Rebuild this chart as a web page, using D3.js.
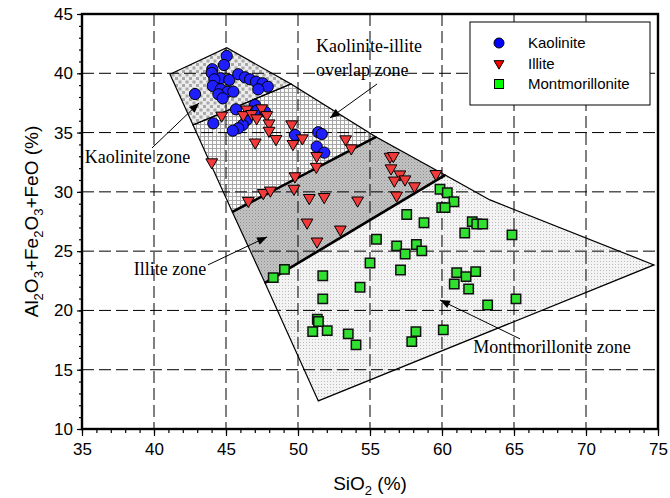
<!DOCTYPE html>
<html>
<head>
<meta charset="utf-8">
<script src="https://cdn.jsdelivr.net/npm/d3@7"></script>
<style>
  body { margin: 0; background: #fff; }
  text { font-family: Arial, "Liberation Sans", sans-serif; }
  .serif { font-family: "Times New Roman", "Liberation Serif", serif; }
</style>
</head>
<body>
<svg id="chart" width="670" height="498"></svg>
<script>
// --- data (SiO2 %, Al2O3+Fe2O3+FeO %)
var kaolinite = [
  [45.05, 41.46], [44.86, 40.70], [44.05, 40.34], [44.01, 40.03], [44.63, 39.58],
  [44.19, 39.49], [45.23, 39.44], [45.85, 39.92], [46.32, 39.66], [46.67, 39.49],
  [47.08, 39.29], [47.55, 39.16], [47.90, 38.87], [47.24, 38.65], [44.08, 38.93],
  [44.63, 38.65], [45.12, 38.45], [45.51, 38.45], [44.47, 38.23], [44.77, 37.89],
  [42.85, 38.25], [45.69, 36.96], [47.01, 37.33], [47.17, 36.85], [47.71, 36.76],
  [46.44, 36.06], [46.16, 35.64], [45.85, 35.36], [45.47, 35.16], [44.12, 35.78],
  [49.79, 34.80], [51.41, 35.03], [51.65, 34.88], [51.30, 33.81], [51.83, 33.31]
];
var illite = [
  [44.70, 36.44], [46.44, 36.96], [46.20, 36.48], [46.78, 36.57], [47.13, 36.21],
  [47.48, 37.05], [47.83, 36.48], [47.99, 35.78], [47.99, 35.16], [48.47, 34.46],
  [47.03, 34.17], [49.56, 35.70], [49.65, 34.04], [50.30, 34.52], [53.31, 34.44],
  [53.70, 33.68], [51.30, 33.03], [51.27, 32.12], [44.01, 32.50], [49.79, 31.32],
  [49.72, 30.27], [47.59, 29.91], [48.08, 30.12], [46.55, 29.25], [50.78, 29.49],
  [51.82, 29.57], [54.14, 29.28], [50.63, 27.42], [52.94, 26.83], [51.32, 25.82],
  [56.39, 32.97], [56.62, 33.03], [56.46, 31.99], [57.08, 31.48], [57.43, 31.06],
  [56.69, 30.96], [58.09, 30.48], [59.58, 31.51], [56.85, 29.70]
];
var montmorillonite = [
  [59.86, 30.22], [60.37, 29.93], [60.83, 29.17], [59.98, 28.67], [60.21, 28.67],
  [57.55, 28.09], [58.75, 27.39], [62.10, 27.49], [62.41, 27.29], [62.83, 27.29],
  [61.58, 26.53], [55.45, 26.00], [56.85, 25.44], [58.22, 25.56], [57.44, 24.76],
  [58.60, 25.02], [55.00, 24.00], [57.12, 23.41], [61.02, 23.19], [61.67, 22.85],
  [62.34, 23.27], [51.72, 22.93], [49.06, 23.46], [48.28, 22.77], [54.31, 21.96],
  [60.85, 22.23], [61.85, 21.81], [51.72, 20.97], [63.17, 20.46], [51.34, 19.26],
  [51.02, 18.21], [52.03, 18.30], [53.49, 18.02], [54.03, 17.09], [58.19, 18.21],
  [57.90, 17.37], [60.09, 18.36], [64.86, 26.37], [65.14, 20.97], [51.42, 19.07]
];

// zone outlines
var kaoliniteZone = [[41.11, 39.92], [45.05, 42.16], [49.51, 39.10], [42.71, 35.64]];
var overlapZone = [[42.71, 35.64], [49.51, 39.10], [55.42, 34.63], [45.44, 28.31]];
var illiteZone = [[45.44, 28.31], [55.42, 34.63], [60.21, 31.42], [47.71, 22.32]];
var montZone = [[47.71, 22.32], [60.21, 31.42], [63.33, 29.32], [74.72, 23.84], [51.41, 12.37]];
var thickLines = [
  [[45.44, 28.31], [55.42, 34.63]],
  [[47.71, 22.32], [60.21, 31.42]]
];

var zoneLabels = [
  {lines: ["Kaolinite-illite", "overlap zone"], x: 51.25, y: 41.80, anchor: "start"},
  {lines: ["Kaolinite zone"], x: 38.85, y: 32.44, anchor: "middle"},
  {lines: ["Illite zone"], x: 41.11, y: 22.99, anchor: "middle"},
  {lines: ["Montmorillonite zone"], x: 67.64, y: 16.42, anchor: "middle"}
];
var arrows = [
  [[39.86, 33.70], [43.13, 37.50]],
  [[55.49, 39.10], [52.22, 36.23]],
  [[43.75, 23.84], [47.85, 26.20]],
  [[65.42, 17.60], [59.86, 20.88]]
];

var xTicks = [35, 40, 45, 50, 55, 60, 65, 70, 75];
var yTicks = [10, 15, 20, 25, 30, 35, 40, 45];
var legendNames = ["Kaolinite", "Illite", "Montmorillonite"];

// --- chart
var svg = d3.select("#chart");
var x = d3.scaleLinear().domain([35, 75]).range([82, 658]);
var y = d3.scaleLinear().domain([10, 45]).range([429, 14]);

var defs = svg.append("defs");

// kaolinite: grey squares on a light ground
var p1 = defs.append("pattern").attr("id", "pK").attr("patternUnits", "userSpaceOnUse")
  .attr("width", 7).attr("height", 7);
p1.append("rect").attr("width", 7).attr("height", 7).attr("fill", "#ececec");
p1.append("rect").attr("x", 0).attr("y", 0).attr("width", 3).attr("height", 3).attr("fill", "#a9a9a9");
p1.append("rect").attr("x", 3.5).attr("y", 3.5).attr("width", 3).attr("height", 3).attr("fill", "#a9a9a9");

// overlap: grid
var p2 = defs.append("pattern").attr("id", "pO").attr("patternUnits", "userSpaceOnUse")
  .attr("width", 4).attr("height", 4);
p2.append("rect").attr("width", 4).attr("height", 4).attr("fill", "#a6a6a6");
p2.append("rect").attr("x", 1).attr("y", 1).attr("width", 3).attr("height", 3).attr("fill", "#fafafa");

// illite: dense dark dots
var p3 = defs.append("pattern").attr("id", "pI").attr("patternUnits", "userSpaceOnUse")
  .attr("width", 3).attr("height", 3);
p3.append("rect").attr("width", 3).attr("height", 3).attr("fill", "#c4c4c4");
p3.append("rect").attr("x", 0).attr("y", 0).attr("width", 1).attr("height", 1).attr("fill", "#8e8e8e");
p3.append("rect").attr("x", 1.5).attr("y", 1.5).attr("width", 1).attr("height", 1).attr("fill", "#a0a0a0");

// montmorillonite: fine light dots
var p4 = defs.append("pattern").attr("id", "pM").attr("patternUnits", "userSpaceOnUse")
  .attr("width", 3).attr("height", 3);
p4.append("rect").attr("width", 3).attr("height", 3).attr("fill", "#f3f3f3");
p4.append("rect").attr("x", 0).attr("y", 0).attr("width", 1).attr("height", 1).attr("fill", "#bcbcbc");

defs.append("marker").attr("id", "arrow").attr("viewBox", "0 0 10 8")
  .attr("refX", 10).attr("refY", 4).attr("markerWidth", 11).attr("markerHeight", 8)
  .attr("markerUnits", "userSpaceOnUse").attr("orient", "auto")
  .append("path").attr("d", "M0,0L10,4L0,8Z").attr("fill", "#000");

var line = d3.line().x(d => x(d[0])).y(d => y(d[1]));
var poly = pts => line(pts) + "Z";

// zone fills
var zones = [[kaoliniteZone, "pK"], [overlapZone, "pO"], [illiteZone, "pI"], [montZone, "pM"]];
svg.append("g").selectAll("path").data(zones).join("path")
  .attr("d", d => poly(d[0]))
  .attr("fill", d => "url(#" + d[1] + ")")
  .attr("stroke", "none");

// dashed grid
var grid = svg.append("g").attr("stroke", "#000").attr("stroke-width", 1)
  .attr("stroke-dasharray", "12,5");
grid.selectAll(".gx").data(xTicks.slice(1, -1)).join("line")
  .attr("x1", d => x(d)).attr("x2", d => x(d)).attr("y1", y(45)).attr("y2", y(10));
grid.selectAll(".gy").data(yTicks.slice(1, -1)).join("line")
  .attr("y1", d => y(d)).attr("y2", d => y(d)).attr("x1", x(35)).attr("x2", x(75));

// zone outlines
svg.append("g").selectAll("path").data(zones).join("path")
  .attr("d", d => poly(d[0]))
  .attr("fill", "none").attr("stroke", "#000").attr("stroke-width", 1.2)
  .attr("stroke-linejoin", "miter");
svg.append("g").selectAll("path").data(thickLines).join("path")
  .attr("d", line).attr("fill", "none").attr("stroke", "#000").attr("stroke-width", 2.6);

// arrows
svg.append("g").selectAll("path").data(arrows).join("path")
  .attr("d", line).attr("stroke", "#000").attr("stroke-width", 1)
  .attr("fill", "none").attr("marker-end", "url(#arrow)");

// zone labels
svg.append("g").selectAll("text").data(zoneLabels).join("text")
  .attr("class", "serif").attr("font-size", 18).attr("text-anchor", d => d.anchor)
  .attr("x", d => x(d.x)).attr("y", d => y(d.y))
  .each(function (d) {
    d3.select(this).selectAll("tspan").data(d.lines).join("tspan")
      .attr("x", x(d.x)).attr("dy", (t, i) => i ? 24 : 0).text(t => t);
  });

// markers
var tri = d3.symbol().type(d3.symbolTriangle).size(60);
var sq = d3.symbol().type(d3.symbolSquare).size(88);
svg.append("g").selectAll("circle").data(kaolinite).join("circle")
  .attr("cx", d => x(d[0])).attr("cy", d => y(d[1])).attr("r", 5.6)
  .attr("fill", "#1e1eff").attr("stroke", "#000").attr("stroke-width", 1);
svg.append("g").selectAll("path").data(illite).join("path")
  .attr("d", tri).attr("transform", d => "translate(" + x(d[0]) + "," + y(d[1]) + ") rotate(180)")
  .attr("fill", "#f23a3a").attr("stroke", "#000").attr("stroke-width", 1);
svg.append("g").selectAll("path").data(montmorillonite).join("path")
  .attr("d", sq).attr("transform", d => "translate(" + x(d[0]) + "," + y(d[1]) + ")")
  .attr("fill", "#2fe02f").attr("stroke", "#111").attr("stroke-width", 1.5);

// legend
var lg = svg.append("g");
lg.append("rect").attr("x", 470).attr("y", 22).attr("width", 180).attr("height", 83)
  .attr("fill", "#fff").attr("stroke", "#000").attr("stroke-width", 1);
var rows = lg.selectAll("g").data(legendNames).join("g")
  .attr("transform", (d, i) => "translate(499," + (43 + i * 20.5) + ")");
rows.each(function (d, i) {
  var g = d3.select(this);
  if (i === 0) g.append("circle").attr("r", 5).attr("fill", "#0000ff").attr("stroke", "#000");
  if (i === 1) g.append("path").attr("d", d3.symbol().type(d3.symbolTriangle).size(42))
    .attr("transform", "rotate(180)").attr("fill", "#ff0000").attr("stroke", "#000");
  if (i === 2) g.append("rect").attr("x", -4.5).attr("y", -4.5).attr("width", 9).attr("height", 9)
    .attr("fill", "#00ff00").attr("stroke", "#000");
});
rows.append("text").attr("x", 29).attr("dy", "0.36em").attr("font-size", 15).text(d => d);

// axes
var ax = svg.append("g").attr("transform", "translate(0," + y(10) + ")");
ax.call(d3.axisBottom(x).tickValues(d3.range(35, 76, 1)).tickSize(4).tickFormat(""));
ax.append("g").call(d3.axisBottom(x).tickValues(xTicks).tickSize(7).tickPadding(7).tickFormat(d3.format("d")));
var ay = svg.append("g").attr("transform", "translate(" + x(35) + ",0)");
ay.call(d3.axisLeft(y).tickValues(d3.range(10, 46, 1)).tickSize(3).tickFormat(""));
ay.append("g").call(d3.axisLeft(y).tickValues(yTicks).tickSize(5).tickPadding(4).tickFormat(d3.format("d")));
svg.selectAll(".domain").remove();
svg.selectAll(".tick line").attr("stroke", "#000").attr("stroke-width", 1.2);
svg.selectAll(".tick text").attr("font-size", 17).attr("fill", "#000")
  .attr("font-family", "Arial, 'Liberation Sans', sans-serif");

// frame
svg.append("rect").attr("x", x(35)).attr("y", y(45)).attr("width", x(75) - x(35)).attr("height", y(10) - y(45))
  .attr("fill", "none").attr("stroke", "#000").attr("stroke-width", 2.4);

// axis titles
var xt = svg.append("text").attr("x", 370).attr("y", 490).attr("text-anchor", "middle").attr("font-size", 19);
xt.append("tspan").text("SiO");
xt.append("tspan").attr("font-size", 13).attr("dy", 5).text("2");
xt.append("tspan").attr("dy", -5).text(" (%)");

var yt = svg.append("text").attr("transform", "translate(38," + ((y(10) + y(45)) / 2) + ") rotate(-90)")
  .attr("text-anchor", "middle").attr("font-size", 19);
[["Al", 0], ["2", 1], ["O", 0], ["3", 1], ["+Fe", 0], ["2", 1], ["O", 0], ["3", 1], ["+FeO (%)", 0]]
  .forEach(function (p, i, arr) {
    var prevSub = i > 0 && arr[i - 1][1];
    var dy = p[1] ? (prevSub ? 0 : 5) : (prevSub ? -5 : 0);
    yt.append("tspan").attr("font-size", p[1] ? 13 : 19).attr("dy", dy).text(p[0]);
  });
</script>
</body>
</html>
